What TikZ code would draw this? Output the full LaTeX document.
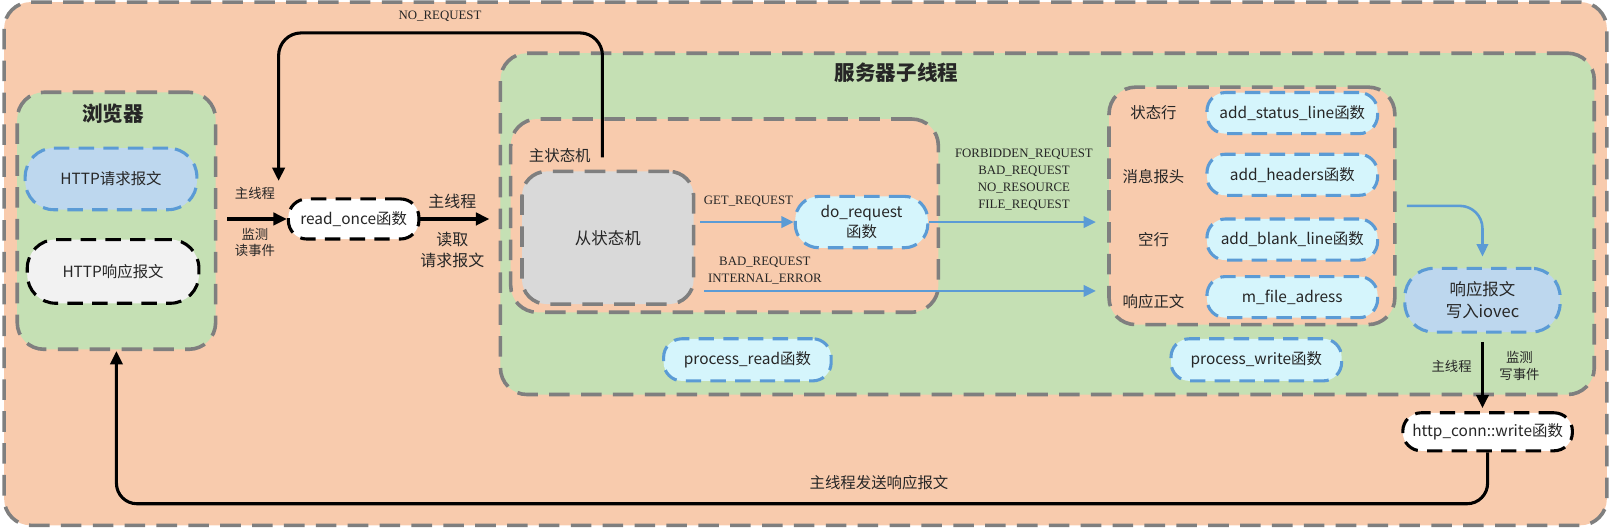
\documentclass[tikz,border=0pt]{standalone}
\usepackage{fontspec}
\setmainfont{Noto Sans CJK SC}
\newfontfamily\tms{Liberation Serif}
\usetikzlibrary{arrows.meta}
\definecolor{peach}{HTML}{F8CBAD}
\definecolor{leaf}{HTML}{C5E0B4}
\definecolor{dashgray}{HTML}{7F7F7F}
\definecolor{skyfill}{HTML}{BDD7EE}
\definecolor{cyanfill}{HTML}{D5F5FC}
\definecolor{pillblue}{HTML}{5B9BD5}
\definecolor{slavegray}{HTML}{D9D9D9}
\definecolor{paper}{HTML}{F2F2F2}
\definecolor{inktext}{HTML}{262626}

\begin{document}
\begin{tikzpicture}[x=1pt,y=-1pt,
  frame/.style={draw=dashgray, line width=3.5pt, dash pattern=on 20pt off 11pt, rounded corners=26pt, anchor=north west, inner sep=0pt, text=inktext},
  pill/.style={draw=pillblue, fill=cyanfill, line width=3pt, dash pattern=on 15pt off 9pt, rounded corners=18pt, align=center, inner sep=0pt, font=\fontsize{15}{19}\selectfont, text=inktext},
  bpill/.style={pill, draw=black, fill=white},
  cn/.style={font=\fontsize{13}{16}\selectfont, text=inktext, align=center},
  en/.style={font=\tms\fontsize{12.5}{16.5}\selectfont, text=inktext, align=center},
  ctrl/.style={-{Triangle[length=13pt,width=12pt]}, line width=3pt},
  flow/.style={-{Triangle[length=12pt,width=11pt]}, line width=2.5pt, draw=pillblue},
]
\useasboundingbox (0,0) rectangle (1568,514.6);
%outer frame
\draw[frame, fill=peach] (4,2) rectangle (1563,511);

%containers
\node[frame, fill=leaf, minimum width=193pt, minimum height=250pt] (browser) at (15,88) {};
\node[frame, fill=leaf, minimum width=1064pt, minimum height=332pt] (server) at (485,50) {};
\node[frame, fill=peach, minimum width=416pt, minimum height=188pt] (mainsm) at (495,114) {};
\node[frame, fill=slavegray, rounded corners=24pt, minimum width=167pt, minimum height=129pt, font=\fontsize{16}{19}\selectfont] (subsm) at (506,165) {从状态机};
\node[frame, fill=peach, minimum width=278pt, minimum height=231pt] (resp) at (1077,83) {};

%titles
\node[cn, font=\fontsize{20}{24}\selectfont\bfseries] (browsertitle) at (110,111) {浏览器};
\node[cn, font=\fontsize{20}{24}\selectfont\bfseries] (servertitle) at (872,71) {服务器子线程};
\node[cn, font=\fontsize{15}{18}\selectfont, anchor=west] (mainlabel) at (511,151) {主状态机};

%browser side
\node[pill, fill=skyfill, rounded corners=28pt, minimum width=167pt, minimum height=60pt] (reqmsg) at (108,174) {HTTP请求报文};
\node[bpill, fill=paper, rounded corners=28pt, minimum width=167pt, minimum height=62pt] (respmsg) at (110,264) {HTTP响应报文};
\node[bpill, minimum width=127pt, minimum height=39pt] (readonce) at (344,213) {read\_once函数};

%read
\coordinate (watchin) at (221,213);
\draw[ctrl] (watchin) -- (readonce);
\node[cn] at (248,188) {主线程};
\node[cn] at (248,236) {监测\\读事件};
\draw[ctrl, shorten >=9pt] (readonce.east) -- (readonce.east -| server.west);
\node[cn, font=\fontsize{15.5}{21}\selectfont] at (440,196) {主线程};
\node[cn, font=\fontsize{15.5}{21}\selectfont] at (440,243) {读取\\请求报文};

%no request loop
\coordinate (nrfrom) at (586,153);
\coordinate (nrto) at (271,176);
\draw[ctrl, rounded corners=22pt] (nrfrom) -- (586,32) -| (nrto);
\node[en] (noreq) at (428,16) {NO\_REQUEST};

%main state machine
\node[pill, rounded corners=23pt, minimum width=129pt, minimum height=50pt, font=\fontsize{15}{20}\selectfont] (doreq) at (838,216) {do\_request\\函数};
\coordinate (getfrom) at (681,216);
\draw[flow] (getfrom) -- (doreq);
\node[en] at (728,196) {GET\_REQUEST};
\draw[flow, shorten >=11pt] (doreq) -- (doreq -| resp.west);
\node[en] at (996,175) {FORBIDDEN\_REQUEST\\BAD\_REQUEST\\NO\_RESOURCE\\FILE\_REQUEST};
\coordinate (badfrom) at (685,283);
\draw[flow, shorten >=11pt] (badfrom) -- (badfrom -| resp.west);
\node[en] at (744,263) {BAD\_REQUEST\\INTERNAL\_ERROR};

%response parts
\foreach \y/\ly/\nm/\lab/\fn in {110/110/status/状态行/add\_status\_line函数, 170/172/header/消息报头/add\_headers函数, 233/233/blank/空行/add\_blank\_line函数, 289/293/body/响应正文/m\_file\_adress}{
  \node[cn, font=\fontsize{15}{18}\selectfont] (\nm lab) at (1122,\ly) {\lab};
  \node[pill, minimum width=166pt, minimum height=40pt] (\nm fn) at (1257,\y) {\fn};
}
\node[pill, fill=skyfill, rounded corners=28pt, minimum width=151pt, minimum height=62pt, font=\fontsize{16}{21}\selectfont] (iovec) at (1442,292) {响应报文\\写入iovec};
\draw[flow, rounded corners=22pt, shorten <=10pt, shorten >=10pt] (resp.east) -| (iovec.north);

%process functions
\node[pill, minimum width=163pt, minimum height=41pt] (procread) at (727,350) {process\_read函数};
\node[pill, minimum width=166pt, minimum height=41pt] (procwrite) at (1222,350) {process\_write函数};

%write back
\node[bpill, minimum width=165pt, minimum height=37pt] (httpwrite) at (1447,420) {http\_conn::write函数};
\draw[ctrl, shorten <=8pt, shorten >=3pt] (iovec.south) -- (iovec.south |- httpwrite.north);
\node[cn] at (1412,356) {主线程};
\node[cn] at (1478,356) {监测\\写事件};
\draw[ctrl, rounded corners=20pt] (httpwrite.south) -- ++(0,50) -| (browser.south);
\node[cn, font=\fontsize{15}{18}\selectfont] (sendlabel) at (855,469) {主线程发送响应报文};
\end{tikzpicture}
\end{document}
